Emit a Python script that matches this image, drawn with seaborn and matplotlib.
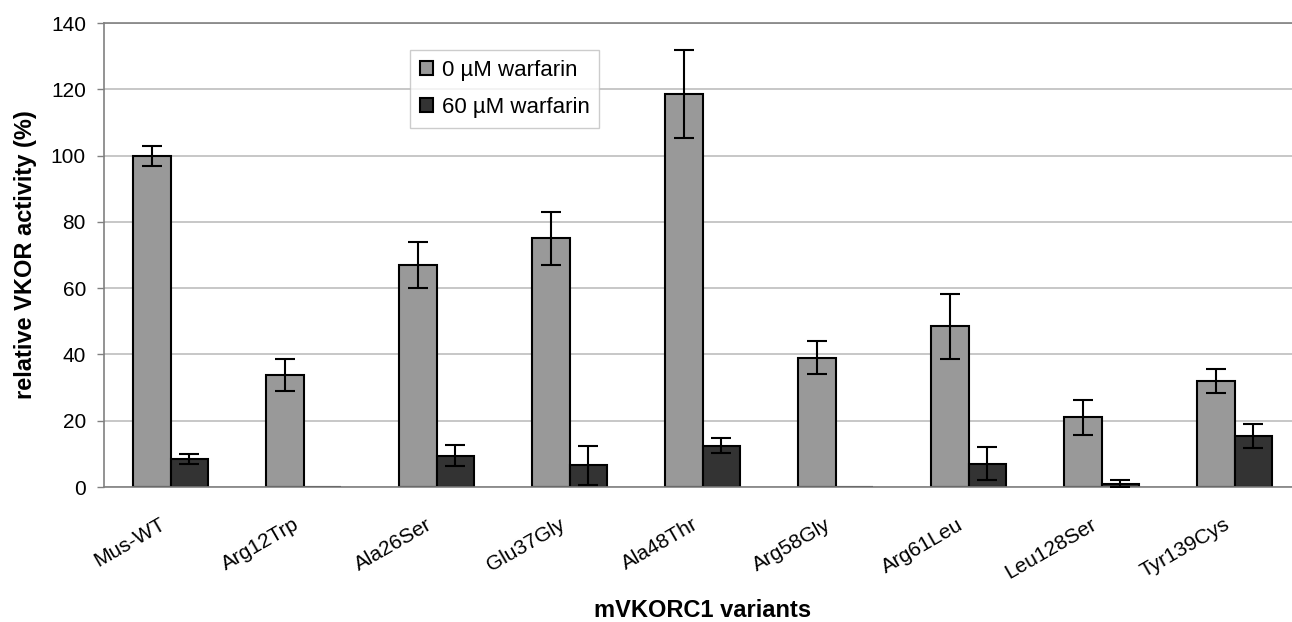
import pandas as pd
import seaborn as sns
import matplotlib.pyplot as plt
from matplotlib.transforms import ScaledTranslation

# Data
variants = ["Mus-WT", "Arg12Trp", "Ala26Ser", "Glu37Gly", "Ala48Thr",
            "Arg58Gly", "Arg61Leu", "Leu128Ser", "Tyr139Cys"]
conditions = ["0 µM warfarin", "60 µM warfarin"]
act_0 = [100, 33.7, 67, 75, 118.5, 39, 48.5, 21, 32]
err_0 = [3, 4.8, 7, 8, 13.3, 5, 9.8, 5.2, 3.5]
act_60 = [8.5, 0, 9.5, 6.5, 12.5, 0, 7, 1, 15.5]
err_60 = [1.5, 0, 3.2, 6, 2.3, 0, 5, 1, 3.6]

df = pd.DataFrame({
    "variant": variants * 2,
    "activity": act_0 + act_60,
    "condition": [conditions[0]] * len(variants) + [conditions[1]] * len(variants),
})

sns.set_theme(style="white")
plt.rcParams["font.family"] = ["Liberation Sans", "DejaVu Sans"]
plt.rcParams["text.color"] = "black"
plt.rcParams["axes.labelcolor"] = "black"
plt.rcParams["xtick.labelcolor"] = "black"
plt.rcParams["ytick.labelcolor"] = "black"

fig = plt.figure(figsize=(12.92, 6.22), dpi=100)
ax = fig.add_axes([0.0805, 0.217, 0.9265, 0.746])

sns.barplot(
    data=df, x="variant", y="activity", hue="condition",
    palette=["#999999", "#333333"], width=0.56, saturation=1,
    edgecolor="black", linewidth=1.5, errorbar=None, ax=ax,
)

# error bars
for cont, errs in zip(ax.containers, [err_0, err_60]):
    for bar, e in zip(cont, errs):
        if e == 0:
            continue
        xc = bar.get_x() + bar.get_width() / 2
        ax.errorbar(xc, bar.get_height(), yerr=e, fmt="none", ecolor="black",
                    elinewidth=1.5, capsize=7, capthick=1.5, zorder=5)

ax.set_ylim(0, 140)
ax.set_xlim(-0.5, len(variants) - 0.5)
ax.set_yticks(range(0, 141, 20))
ax.yaxis.grid(True, color="#bdbdbd", linewidth=1.2)
ax.set_axisbelow(True)

# category boundary ticks on x
ax.set_xticks([i - 0.5 for i in range(len(variants) + 1)], minor=True)
ax.tick_params(axis="x", which="minor", length=5, width=1, color="#808080", direction="out")
ax.tick_params(axis="x", which="major", length=0, labelsize=15, pad=20, labelcolor="black")
ax.tick_params(axis="y", length=5, width=1, color="#808080", direction="out",
               left=True, labelsize=15, pad=8, labelcolor="black")
shift = ScaledTranslation(-8 / 72, 0, fig.dpi_scale_trans)
for lbl in ax.get_xticklabels():
    lbl.set_rotation(30)
    lbl.set_ha("right")
    lbl.set_rotation_mode("anchor")
    lbl.set_transform(lbl.get_transform() + shift)

for s in ["left", "bottom", "top"]:
    ax.spines[s].set_color("#808080")
    ax.spines[s].set_linewidth(1.2)
ax.spines["right"].set_visible(False)

ax.set_xlabel("mVKORC1 variants", fontsize=17, fontweight="bold", labelpad=12, color="black")
ax.set_ylabel("relative VKOR activity (%)", fontsize=17, fontweight="bold", labelpad=10, color="black")

handles, labels = ax.get_legend_handles_labels()
leg = ax.legend(handles, labels, loc="upper left", bbox_to_anchor=(0.256, 0.942),
                borderaxespad=0, fontsize=16, frameon=True, fancybox=False,
                edgecolor="#c0c0c0", handlelength=0.55, handleheight=0.55,
                handletextpad=0.4, labelspacing=0.72, borderpad=0.45, title=None)
for t in leg.get_texts():
    t.set_color("black")

plt.savefig("out.png", dpi=100)
